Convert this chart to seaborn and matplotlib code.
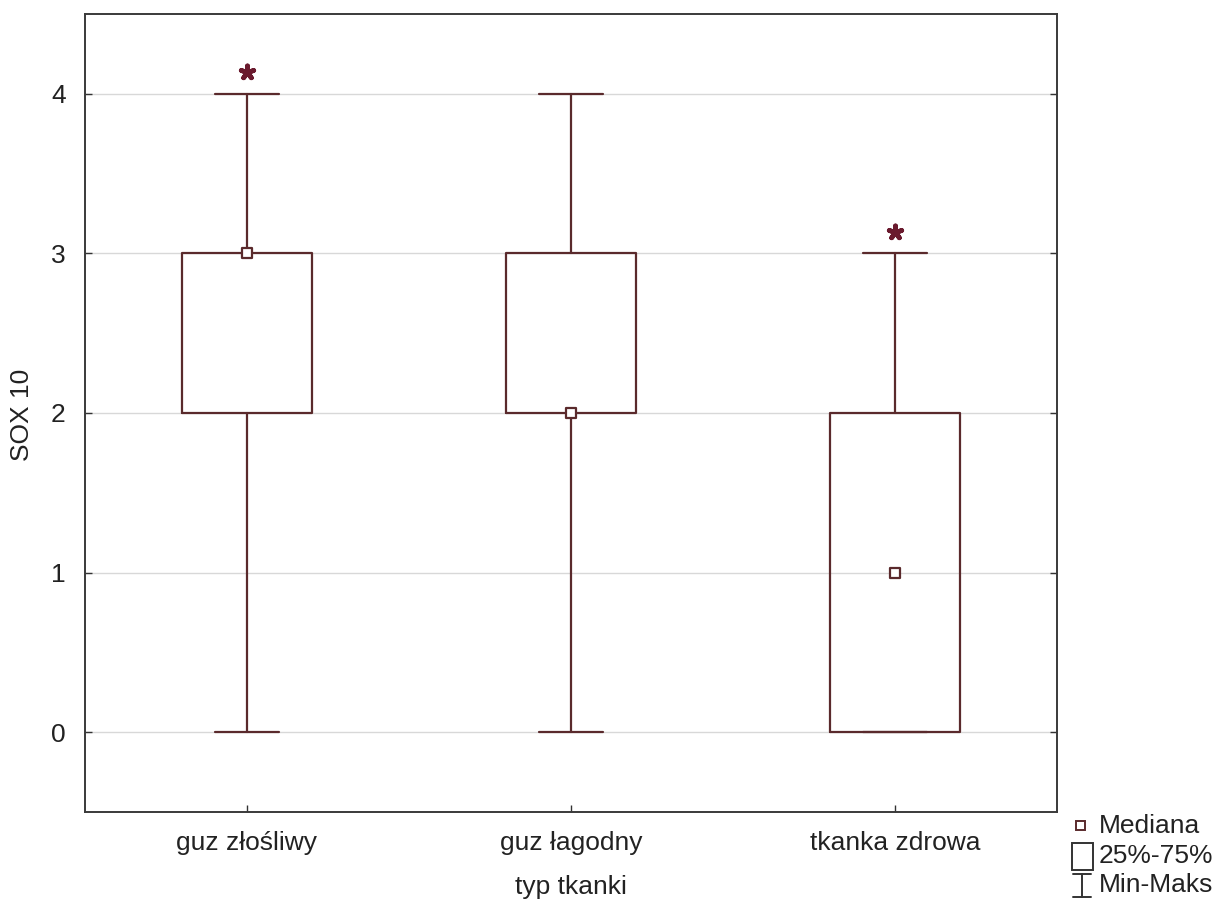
import matplotlib
matplotlib.use("Agg")
import matplotlib.pyplot as plt
from matplotlib.patches import Rectangle
from matplotlib.lines import Line2D
import seaborn as sns
import pandas as pd

# Summary statistics of SOX 10 scores per tissue type
categories = ["guz złośliwy", "guz łagodny", "tkanka zdrowa"]
minimum = [0, 0, 0]
q1 = [2, 2, 0]
median = [3, 2, 1]
q3 = [3, 3, 2]
maximum = [4, 4, 3]
significant = [True, False, True]

sns.set_theme(style="white")
plt.rcParams["font.family"] = ["Liberation Sans", "DejaVu Sans"]

line_col = "#5a2a2c"
star_col = "#6a1a2e"
fs = 19

fig = plt.figure(figsize=(12.23, 9.0), dpi=100)
ax = fig.add_axes([85 / 1223, 1 - 812 / 900, (1057 - 85) / 1223, (812 - 14) / 900])

stats = [
    dict(label=c, whislo=lo, q1=a, med=m, q3=b, whishi=hi, fliers=[])
    for c, lo, a, m, b, hi in zip(categories, minimum, q1, median, q3, maximum)
]
positions = list(range(len(categories)))
ax.bxp(
    stats, positions=positions, widths=0.4, showfliers=False,
    boxprops=dict(color=line_col, linewidth=1.6),
    whiskerprops=dict(color=line_col, linewidth=1.6),
    capprops=dict(color=line_col, linewidth=1.6),
    medianprops=dict(linewidth=0),
    capwidths=0.2, zorder=3,
)

df = pd.DataFrame({"pos": positions, "median": median})
sns.scatterplot(
    data=df, x="pos", y="median", ax=ax, marker="s", s=60,
    facecolor="white", edgecolor=line_col, linewidth=1.6, zorder=4,
)

# Asterisks marking significant groups, just above the maximum
sig = pd.DataFrame({
    "pos": [p for p, s in zip(positions, significant) if s],
    "top": [hi + 0.135 for hi, s in zip(maximum, significant) if s],
})
sns.scatterplot(data=sig, x="pos", y="top", ax=ax, marker=(5, 2, 0), s=90,
                color=star_col, edgecolor=star_col, linewidth=3.4, zorder=4)

ax.set_xlim(-0.5, 2.5)
ax.set_ylim(-0.5, 4.5)
ax.set_xticks(positions)
ax.set_xticklabels(categories)
ax.set_yticks([0, 1, 2, 3, 4])
ax.yaxis.grid(True, color="#d8d8d8", linewidth=1.0)
ax.set_axisbelow(True)
ax.tick_params(axis="both", direction="in", length=5, width=1.0, color="#333333",
               labelsize=fs, labelcolor="#222222", top=False, right=True,
               left=True, bottom=True)
ax.tick_params(axis="x", pad=14)
ax.tick_params(axis="y", pad=14)
for s in ax.spines.values():
    s.set_color("#3a3a3a")
    s.set_linewidth(1.4)

ax.set_xlabel("typ tkanki", fontsize=fs, color="#222222")
ax.set_ylabel("SOX 10", fontsize=fs, color="#222222")
ax.xaxis.label.set_va("center")
ax.yaxis.label.set_va("center")
ax.xaxis.set_label_coords(0.5, (812 - 887) / 798)
ax.yaxis.set_label_coords((22 - 85) / 972, (812 - 415) / 798)

# Legend key drawn in figure pixels
def fx(x):
    return x / 1223

def fy(y):
    return 1 - y / 900

fig.add_artist(Rectangle((fx(1076), fy(830)), 9 / 1223, 9 / 900, transform=fig.transFigure,
                         facecolor="white", edgecolor=line_col, linewidth=1.4))
fig.add_artist(Rectangle((fx(1072), fy(870)), 21 / 1223, 27 / 900, transform=fig.transFigure,
                         facecolor="white", edgecolor="#333333", linewidth=1.4))
wx = fx(1082)
fig.add_artist(Line2D([wx, wx], [fy(874), fy(897)], transform=fig.transFigure, color="#333333", lw=1.4))
fig.add_artist(Line2D([fx(1073), fx(1091)], [fy(874), fy(874)], transform=fig.transFigure, color="#333333", lw=1.4))
fig.add_artist(Line2D([fx(1073), fx(1091)], [fy(897), fy(897)], transform=fig.transFigure, color="#333333", lw=1.4))

for txt, y in [("Mediana", 826), ("25%-75%", 856), ("Min-Maks", 885)]:
    fig.text(fx(1099), fy(y), txt, ha="left", va="center", fontsize=fs, color="#222222")

fig.savefig("out.png", dpi=100, facecolor="white")
